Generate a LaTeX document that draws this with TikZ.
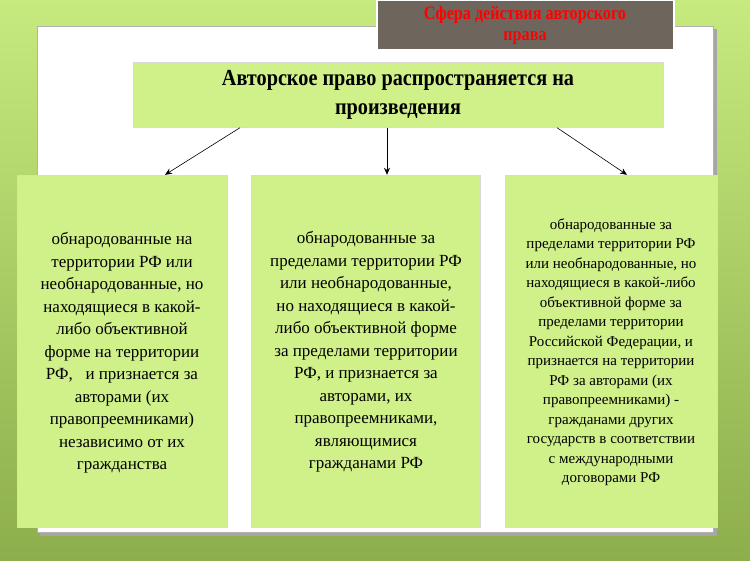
\documentclass[tikz,border=0pt]{standalone}
\usepackage{fontspec}
\setmainfont{Liberation Serif}
\usetikzlibrary{arrows.meta}
\begin{document}
\begin{tikzpicture}[x=1pt,y=-1pt,
 bx/.style={draw=black!15,fill=boxg,inner sep=0pt},
 body/.style={align=center,font=\fontsize{17}{22.5}\selectfont},
 arr/.style={-{Stealth[length=7pt,width=6pt]},semithick}]
\definecolor{boxg}{HTML}{D0F08A}
\definecolor{bgtop}{HTML}{C6EA7E}
\definecolor{bgbot}{HTML}{8DAE4C}
\definecolor{titfill}{HTML}{6E665C}
\useasboundingbox (0,0) rectangle (750,561);
\shade[top color=bgtop,bottom color=bgbot] (0,0) rectangle (750,561);
\fill[black!35] (40,29) rectangle (717,536);
\node[draw=black!30,fill=white,minimum width=676pt,minimum height=506pt,inner sep=0pt] (panel) at (375,279) {};
\node[draw=white,line width=2pt,fill=titfill,minimum width=297pt,minimum height=50pt,align=center,text=red,font=\bfseries\fontsize{19}{21}\selectfont] (title) at (525,25) {\scalebox{0.85}[1]{Сфера действия авторского}\\\scalebox{0.85}[1]{права}};
\node[bx,minimum width=530pt,minimum height=65pt,align=center,font=\bfseries\fontsize{23}{29}\selectfont] (main) at (398,95) {\scalebox{0.88}[1]{Авторское право распространяется на}\\\scalebox{0.88}[1]{произведения}};
\node[bx,minimum width=210pt,minimum height=352pt] (b1) at (122,351) {};
\node[bx,minimum width=229pt,minimum height=352pt] (b2) at (366,351) {};
\node[bx,minimum width=212pt,minimum height=352pt] (b3) at (611,351) {};
\node[body] (t1) at (122,353) {обнародованные на\\территории РФ или\\необнародованные, но\\находящиеся в какой-\\либо объективной\\форме на территории\\РФ,\ \ \ и признается за\\авторами (их\\правопреемниками)\\независимо от их\\гражданства};
\node[body] (t2) at (366,352) {обнародованные за\\пределами территории РФ\\или необнародованные,\\но находящиеся в какой-\\либо объективной форме\\за пределами территории\\РФ, и признается за\\авторами, их\\правопреемниками,\\являющимися\\гражданами РФ};
\node[body,font=\fontsize{15}{19.5}\selectfont] (t3) at (611,352) {обнародованные за\\пределами территории РФ\\или необнародованные, но\\находящиеся в какой-либо\\объективной форме за\\пределами территории\\Российской Федерации, и\\признается на территории\\РФ за авторами (их\\правопреемниками) -\\гражданами других\\государств в соответствии\\с международными\\договорами РФ};
\draw[arr] (main.south-|240,0) -- (b1.north-|165,0);
\draw[arr] (main.south-|387,0) -- (b2.north-|387,0);
\draw[arr] (main.south-|557,0) -- (b3.north-|627,0);
\end{tikzpicture}
\end{document}
